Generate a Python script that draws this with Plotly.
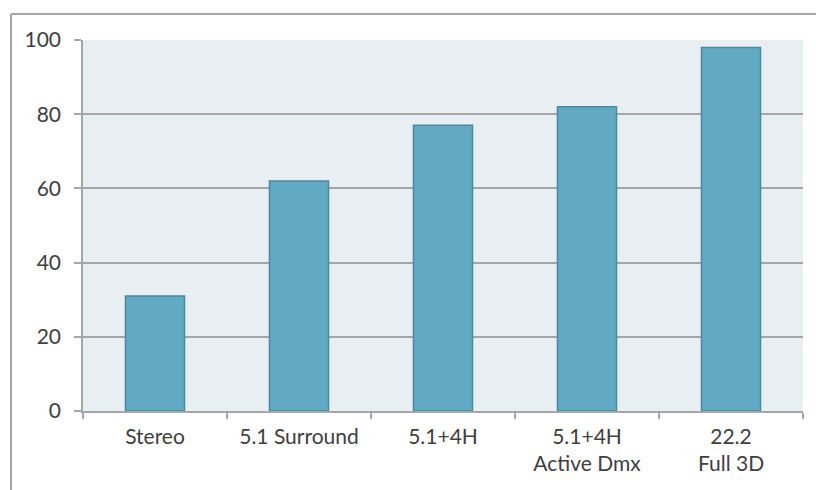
import plotly.graph_objects as go

# Listening-format scores
categories = ["Stereo", "5.1 Surround", "5.1+4H", "5.1+4H<br>Active Dmx", "22.2<br>Full 3D"]
scores = [31, 62, 77, 82, 98]
y_ticks = [0, 20, 40, 60, 80, 100]

GRID = "#a6a6a6"
TEXT = "#404040"
FONT = "Lato"
SIZE = 21

fig = go.Figure(
    go.Bar(
        x=categories,
        y=scores,
        width=0.41,
        marker=dict(color="#62a9c4", line=dict(color="#4a87a0", width=1.5)),
        hoverinfo="x+y",
    )
)

fig.update_layout(
    width=816,
    height=490,
    margin=dict(l=83, r=13, t=40, b=79),
    paper_bgcolor="white",
    plot_bgcolor="#e8eff2",
    showlegend=False,
    font=dict(family=FONT, size=SIZE, color=TEXT),
    xaxis=dict(
        type="category",
        showgrid=False,
        showline=True,
        linecolor=GRID,
        linewidth=1.5,
        ticks="outside",
        tickson="boundaries",
        ticklen=6,
        tickcolor=GRID,
        tickwidth=1.5,
        ticklabelstandoff=6,
        tickfont=dict(family=FONT, size=SIZE, color=TEXT),
    ),
    yaxis=dict(
        range=[0, 100],
        tickvals=y_ticks,
        showgrid=True,
        gridcolor=GRID,
        gridwidth=1.5,
        zeroline=False,
        showline=True,
        linecolor=GRID,
        linewidth=1.5,
        ticks="outside",
        ticklen=7,
        tickcolor=GRID,
        tickwidth=1.5,
        ticklabelstandoff=9,
        tickfont=dict(family=FONT, size=SIZE, color=TEXT),
    ),
    shapes=[
        # chart frame: left and top edges
        dict(type="line", xref="paper", yref="paper", x0=-0.1, x1=-0.1, y0=1.07, y1=-0.22,
             line=dict(color="#a6a6a6", width=2)),
        dict(type="line", xref="paper", yref="paper", x0=-0.1, x1=1.02, y0=1.07, y1=1.07,
             line=dict(color="#a6a6a6", width=2)),
    ],
)

fig.write_html("out.html")
